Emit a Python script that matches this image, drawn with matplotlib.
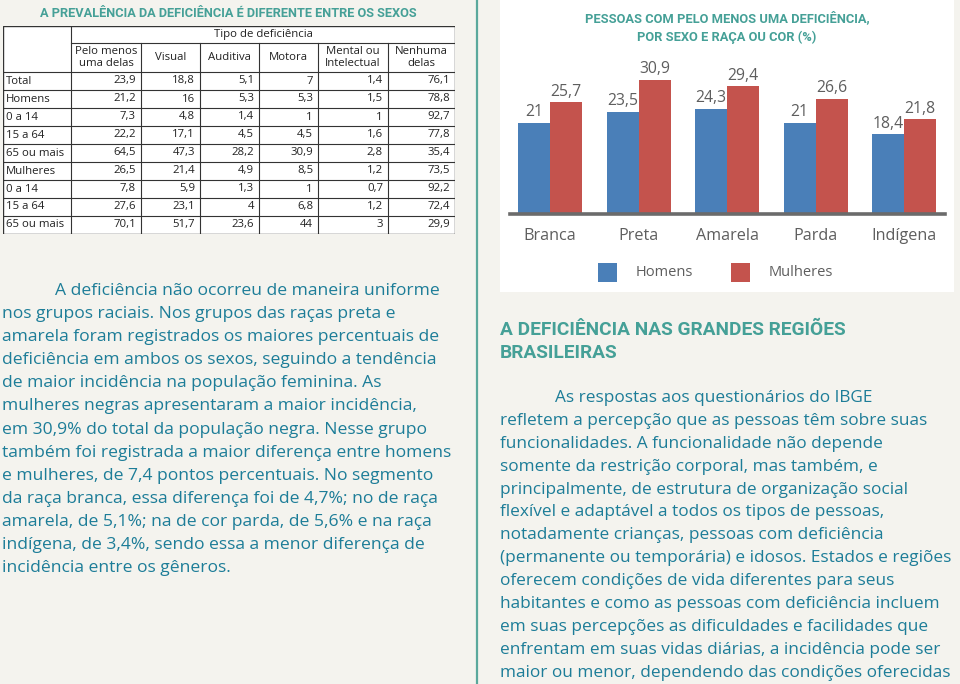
import matplotlib
matplotlib.use("Agg")
import matplotlib.pyplot as plt
import numpy as np

# ---- data ----
col_heads = ["Pelo menos\numa delas", "Visual", "Auditiva", "Motora",
             "Mental ou\nIntelectual", "Nenhuma\ndelas"]
row_names = ["Total", "Homens", "0 a 14", "15 a 64", "65 ou mais",
             "Mulheres", "0 a 14", "15 a 64", "65 ou mais"]
tab_vals = [
    ["23,9", "18,8", "5,1", "7", "1,4", "76,1"],
    ["21,2", "16", "5,3", "5,3", "1,5", "78,8"],
    ["7,3", "4,8", "1,4", "1", "1", "92,7"],
    ["22,2", "17,1", "4,5", "4,5", "1,6", "77,8"],
    ["64,5", "47,3", "28,2", "30,9", "2,8", "35,4"],
    ["26,5", "21,4", "4,9", "8,5", "1,2", "73,5"],
    ["7,8", "5,9", "1,3", "1", "0,7", "92,2"],
    ["27,6", "23,1", "4", "6,8", "1,2", "72,4"],
    ["70,1", "51,7", "23,6", "44", "3", "29,9"],
]

racas = ["Branca", "Preta", "Amarela", "Parda", "Indígena"]
homens = [21, 23.5, 24.3, 21, 18.4]
mulheres = [25.7, 30.9, 29.4, 26.6, 21.8]

texto_esq = [
    "A deficiência não ocorreu de maneira uniforme",
    "nos grupos raciais. Nos grupos das raças preta e",
    "amarela foram registrados os maiores percentuais de",
    "deficiência em ambos os sexos, seguindo a tendência",
    "de maior incidência na população feminina. As",
    "mulheres negras apresentaram a maior incidência,",
    "em 30,9% do total da população negra. Nesse grupo",
    "também foi registrada a maior diferença entre homens",
    "e mulheres, de 7,4 pontos percentuais. No segmento",
    "da raça branca, essa diferença foi de 4,7%; no de raça",
    "amarela, de 5,1%; na de cor parda, de 5,6% e na raça",
    "indígena, de 3,4%, sendo essa a menor diferença de",
    "incidência entre os gêneros.",
]
texto_dir = [
    "As respostas aos questionários do IBGE",
    "refletem a percepção que as pessoas têm sobre suas",
    "funcionalidades. A funcionalidade não depende",
    "somente da restrição corporal, mas também, e",
    "principalmente, de estrutura de organização social",
    "flexível e adaptável a todos os tipos de pessoas,",
    "notadamente crianças, pessoas com deficiência",
    "(permanente ou temporária) e idosos. Estados e regiões",
    "oferecem condições de vida diferentes para seus",
    "habitantes e como as pessoas com deficiência incluem",
    "em suas percepções as dificuldades e facilidades que",
    "enfrentam em suas vidas diárias, a incidência pode ser",
    "maior ou menor, dependendo das condições oferecidas",
]

BG = "#f4f3ee"
TEAL = "#45a097"
BODY = "#1d7d98"
GRAY = "#5e5e5e"
BLUE = "#4a7fb8"
RED = "#c4534d"
BODY_FONT = ["Open Sans", "DejaVu Sans"]
HEAD_FONT = ["Roboto", "DejaVu Sans"]

W, H = 960, 684
fig = plt.figure(figsize=(9.6, 6.84), dpi=100, facecolor=BG)


def fx(x):
    return x / W


def fy(y):
    return 1 - y / H


def add_ax(x0, y0, x1, y1):
    return fig.add_axes([fx(x0), fy(y1), fx(x1 - x0), (y1 - y0) / H])


# vertical separator
fig.add_artist(plt.Line2D([fx(477), fx(477)], [0, 1], color="#5aa89c", lw=1.6))

# ---- left title ----
fig.text(fx(228), fy(17), "A PREVALÊNCIA DA DEFICIÊNCIA É DIFERENTE ENTRE OS SEXOS",
         ha="center", va="baseline", color=TEAL, fontsize=9.2,
         fontweight="bold", family=HEAD_FONT)

# ---- table ----
tx0, ty0, tx1, ty1 = 3, 26, 455, 234
tab = add_ax(tx0, ty0, tx1, ty1)
tab.set_xlim(tx0, tx1)
tab.set_ylim(ty1, ty0)
tab.axis("off")
tab.add_patch(plt.Rectangle((tx0, ty0), tx1 - tx0, ty1 - ty0, facecolor="white",
                            edgecolor="#333333", lw=1.0))
col_edges = [3, 71, 141, 200, 259, 318, 388, 455]
row_edges = [72 + 18 * i for i in range(len(row_names) + 1)]
row_edges[-1] = ty1
lc = "#333333"
tfs = 8.2
# header lines
tab.plot([71, 455], [43, 43], color=lc, lw=0.8)
tab.plot([3, 455], [72, 72], color=lc, lw=0.8)
for x in col_edges[1:-1]:
    y_top = 26 if x == 71 else 43
    tab.plot([x, x], [y_top, ty1], color=lc, lw=0.8)
for y in row_edges[1:-1]:
    tab.plot([3, 455], [y, y], color=lc, lw=0.8)
tab.text((71 + 455) / 2, 34.5, "Tipo de deficiência", ha="center", va="center",
         fontsize=tfs, color="#222222", family=BODY_FONT)
for j, h in enumerate(col_heads):
    tab.text((col_edges[j + 1] + col_edges[j + 2]) / 2, 57.5, h, ha="center",
             va="center", fontsize=tfs, color="#222222", family=BODY_FONT,
             linespacing=1.0)
for i, name in enumerate(row_names):
    yc = (row_edges[i] + row_edges[i + 1]) / 2
    tab.text(6, yc, name, ha="left", va="center", fontsize=tfs,
             color="#222222", family=BODY_FONT)
    for j, v in enumerate(tab_vals[i]):
        tab.text(col_edges[j + 2] - 5, yc, v, ha="right", va="center",
                 fontsize=tfs, color="#222222", family=BODY_FONT)

# ---- right chart box ----
fig.add_artist(plt.Rectangle((fx(500), fy(292)), fx(454), 292 / H,
                             facecolor="white", edgecolor="none", zorder=-5))
fig.text(fx(727), fy(22), "PESSOAS COM PELO MENOS UMA DEFICIÊNCIA,",
         ha="center", va="baseline", color=TEAL, fontsize=9.3,
         fontweight="bold", family=HEAD_FONT)
fig.text(fx(727), fy(41), "POR SEXO E RAÇA OU COR (%)",
         ha="center", va="baseline", color=TEAL, fontsize=9.3,
         fontweight="bold", family=HEAD_FONT)

base_y = 214
ppu = 4.34  # pixels per unit
top_y = 50
ax = add_ax(510, top_y, 945, base_y)
ax.set_zorder(2)
x = np.arange(len(racas))
sp = 88.5
ax.set_xlim((510 - 550) / sp, (945 - 550) / sp)
ax.set_ylim(0, (base_y - top_y) / ppu)
bw = 32 / sp
ax.bar(x - bw / 2, homens, bw, color=BLUE, label="Homens")
ax.bar(x + bw / 2, mulheres, bw, color=RED, label="Mulheres")
for i in range(len(racas)):
    for xx, v in [(x[i] - bw / 2, homens[i]), (x[i] + bw / 2, mulheres[i])]:
        lab = ("%g" % v).replace(".", ",")
        ax.text(xx, v + 0.6, lab, ha="center", va="bottom", fontsize=11.3,
                color=GRAY, family=BODY_FONT)
for s in ["top", "left", "right"]:
    ax.spines[s].set_visible(False)
ax.spines["bottom"].set_color("#6b6b6b")
ax.spines["bottom"].set_linewidth(2.6)
ax.set_yticks([])
ax.set_xticks(x)
ax.set_xticklabels(racas, fontsize=11.6, color=GRAY, family=BODY_FONT)
ax.tick_params(axis="x", length=0, pad=10)
ax.patch.set_alpha(0)

# legend
for lx, col, name in [(598, BLUE, "Homens"), (731, RED, "Mulheres")]:
    fig.add_artist(plt.Rectangle((fx(lx), fy(282)), fx(19), 19 / H,
                                 facecolor=col, edgecolor="none"))
    fig.text(fx(lx + 38), fy(272), name, ha="left", va="center",
             fontsize=10.5, color=GRAY, family=BODY_FONT)

# ---- left paragraph ----
for i, line in enumerate(texto_esq):
    x0 = 55 if i == 0 else 2
    fig.text(fx(x0), fy(295 + 23.1 * i), line, ha="left", va="baseline",
             fontsize=12.6, color=BODY, family=BODY_FONT)

# ---- right heading and paragraph ----
fig.text(fx(500), fy(335), "A DEFICIÊNCIA NAS GRANDES REGIÕES", ha="left",
         va="baseline", fontsize=13.8, color=TEAL, fontweight="bold",
         family=HEAD_FONT)
fig.text(fx(500), fy(358), "BRASILEIRAS", ha="left", va="baseline",
         fontsize=13.8, color=TEAL, fontweight="bold", family=HEAD_FONT)
for i, line in enumerate(texto_dir):
    x0 = 555 if i == 0 else 500
    fig.text(fx(x0), fy(402 + 22.9 * i), line, ha="left", va="baseline",
             fontsize=12.4, color=BODY, family=BODY_FONT)

fig.savefig("out.png", dpi=100, facecolor=BG)
